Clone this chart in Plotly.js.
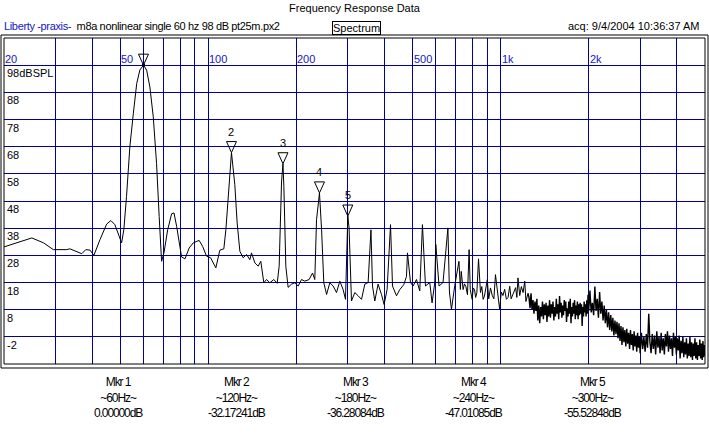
<!DOCTYPE html>
<html><head><meta charset="utf-8">
<script src="https://cdn.plot.ly/plotly-3.0.1.min.js"></script>
<style>html,body{margin:0;padding:0;background:#fff;}#chart{width:709px;height:441px;}</style>
</head><body><div id="chart"></div>
<script>
// ---- data (Hz, dB SPL) ----
const lowFreq = [20,22.1,24.9,27.3,29.5,32.8,33.6,36.9,38.1,39.4,40.6,42.6,44.9,46.4,47.9,50.5,51.4,52.5,53.9,55.4,56.9,58.3,60,61.5,63.1,64.8,66.5,67.9,69.2,70.5,72.6,74.9,76.3,77.9,79.9,81.0,83.2,86.0,88.8,93.0,95.6,98.6,101.8,106.1,109.5,113.0,114.8,117.9,120,123.2,125.5,128.2,131.6,135.1,138.7,140.5,144.3,148.1,151.2,154.8,158.2,162.3,167.5,172.0,174.7,178.0,180,181.3,184.1,187.5,192.6,197.7,202.9,208.4,213.8,221.2,227.2,231.3,234.5,240,244.0,248.3,253.8,260.4,267.2,274.5,281.7,289.1,294.6];
const lowDb = [31.1,32.6,34.4,32.6,30.1,30.1,30.4,28.6,30.1,29.9,28.0,33.8,39.5,40.8,39.3,32.6,37.4,49.7,68.0,80.3,91.3,96.2,98.0,96.2,90.0,79.0,61.9,42.3,25.8,28.9,37.4,43.3,43.6,38.7,31.3,27.4,26.7,30.7,32.6,33.5,31.3,27.7,27.1,23.4,29.9,30.4,37.4,55.8,65.8,54.0,39.9,29.5,27.1,28.3,26.4,28.9,25.2,24.0,25.8,17.9,19.1,17.9,19.1,17.7,24.0,55.0,61.7,53.3,24.0,16.2,17.4,17.9,16.7,19.1,18.5,19.1,21.5,19.1,41.1,51.0,37.4,17.9,13.6,17.9,16.7,14.3,18.5,15.4,11.8];

const midFreq = [300,303,308.8,317.0,325.4,334.2,343.0,352.1,360,364.4,371.1,380.8,391.1,399.2,408.8,420,426.6,440.2,451.8,466.2,476.2,480,491.5,501.6,515.2,528.8,540,553.1,572.0,582.6,595.1,600,615.5,635.1,660,668,678.7,696.6,720,728,733,744,752,760,770,780,787,799,806,814,821,829,840,853,862,871,880,890,900,910,923,936,948,960,970,979,992,1005,1018,1032,1046,1060,1074,1086,1097,1111,1125,1136,1146,1162,1177,1193,1209,1220,1230,1240];
const midDb = [42.5,38.0,11.2,14.3,13.1,11.8,17.4,18.0,37.4,16.7,11.2,17.4,13.6,9.9,15.4,39.3,16.7,13.1,15.4,17.2,20.2,28.9,18.0,16.7,19.1,14.9,39.3,16.7,18.0,10.5,18.0,32.0,16.7,18.0,38.1,14.5,8.1,16.9,25.8,15.4,22.1,15.4,17.5,16.6,13.5,30.1,15.4,11.8,16.0,15.4,12.5,14.3,26.7,14.3,16.5,11.8,13.0,15.4,19.0,12.0,16.0,13.2,12.0,20.9,16.0,11.8,8.1,14.5,13.2,15.5,11.8,12.5,16.6,12.0,13.2,15.0,16.1,12.5,19.7,13.2,16.5,14.3,18.5,11.0,13.2,14.0];

const noiseFreq = [1250,1260,1270,1280,1290,1300,1310,1320,1330,1340,1350,1360,1370,1380,1390,1400,1410,1420,1430,1440,1450,1460,1470,1480,1490,1500,1510,1520,1530,1540,1550,1560,1570,1580,1590,1600,1610,1620,1630,1640,1650,1660,1670,1680,1690,1700,1710,1720,1730,1740,1750,1760,1770,1780,1790,1800,1810,1820,1830,1840,1850,1860,1870,1880,1890,1900,1910,1920,1930,1940,1950,1960,1970,1980,1990,2000,
  2020,2040,2060,2080,2100,2120,2140,2160,2180,2200,2220,2240,2260,2280,2300,2320,2340,2360,2380,2400,2420,2440,2460,2480,2500,2520,2540,2560,2580,2600,2620,2640,2660,2680,2700,2720,2740,2760,2780,2800,2820,2840,2860,2880,2900,2920,2940,2960,2980,3000,
  3030,3060,3090,3120,3150,3180,3210,3240,3270,3300,3330,3360,3390,3420,3450,3480,3510,3540,3570,3600,3630,3660,3690,3720,3750,3780,3810,3840,3870,3900,3930,3960,3990,4020,4050,4080,4110,4140,4170,4200,4230,4260,4290,4320,4350,4380,4410,4440,4470,4500,4530,4560,4590,4620,4650,4680,4710,4740,4770,4800,4830,4860,4890,4920,4950,4980,5000];
const noiseDb = [12.5,8.5,14.0,8.0,11.5,6.5,11.0,7.5,12.0,4.0,9.5,3.0,9.0,5.5,11.0,4.5,10.0,6.0,10.5,3.5,9.5,5.5,11.5,5.0,10.0,6.5,11.0,4.0,9.0,5.5,12.0,6.5,10.0,4.5,13.0,7.0,10.5,5.0,9.5,6.0,11.5,7.5,11.0,3.5,8.5,5.5,11.0,6.5,12.0,3.0,9.0,5.5,10.5,6.5,11.5,4.5,9.5,6.0,11.0,4.5,10.0,6.0,10.5,6.5,10.0,2.0,9.0,5.5,11.0,7.0,10.0,5.5,11.5,6.5,13.5,7.5,
  15.0,7.0,10.5,6.0,16.5,7.5,12.0,5.0,14.5,6.5,11.0,4.0,9.5,3.0,8.0,1.5,7.0,0.5,6.0,0.0,5.0,-1.5,4.0,-1.0,3.5,-2.5,3.0,-3.5,2.0,-5.0,1.5,-4.0,0.5,-5.5,1.0,-4.5,-0.5,-6.5,0.5,-5.0,-1.0,-7.0,0.0,-5.5,-1.5,-7.5,-0.5,-6.0,-2.0,-8.0,
  -0.5,-6.5,-2.0,-7.5,-1.0,-6.0,6.5,-4.0,-8.0,-1.0,-6.5,-1.5,-8.5,0.0,-6.0,-2.0,-8.0,-0.5,-7.0,-2.5,-8.5,-1.0,-5.5,0.0,-7.5,-1.5,-6.5,-2.5,-9.0,-0.5,-6.0,-2.0,-8.5,-2.5,-7.0,-1.5,-10.0,-3.5,-8.0,-2.0,-9.5,-4.0,-8.5,-2.5,-10.0,-4.5,-9.0,-2.0,-9.5,-4.0,-10.5,-4.5,-9.0,-2.5,-10.0,-4.0,-10.5,-5.0,-9.0,-3.0,-10.0,-4.5,-10.5,-3.5,-9.5,-5.0,-9.0];

const refDb = 98;
const markerNames = ["Mkr 1","Mkr 2","Mkr 3","Mkr 4","Mkr 5"];
const markerFreq = [60,120,180,240,300];
const markerRelDb = [0, -32.17241, -36.28084, -47.01085, -55.52848];

const xGridHz = [20,30,40,50,60,70,80,90,100,200,300,400,500,600,700,800,900,1000,2000,3000,4000,5000];
const xLabelHz = [20,50,100,200,500,1000,2000];
const xLabelText = ["20","50","100","200","500","1k","2k"];
const yGridDb = [-2,8,18,28,38,48,58,68,78,88,98];
const yLabelText = ["-2","8","18","28","38","48","58","68","78","88","98dBSPL"];

const titleText = "Frequency Response Data";
const sourceText = "Liberty -praxis-";
const fileText = "m8a nonlinear single 60 hz 98 dB pt25m.px2";
const modeText = "Spectrum";
const acqText = "acq: 9/4/2004 10:36:37 AM";

// ---- styling ----
const GRID = '#00009c';
const BLUE = '#1414c8';
const FONT = 'Liberation Sans, Arial, sans-serif';
const W = 709, H = 441, ML = 4, MR = 4, MT = 38, MB = 77;
const PW = W - ML - MR, PH = H - MT - MB;
const px2x = p => (p - ML) / PW;
const py2y = p => (H - MB - p) / PH;
const tight = (t, s) => '<span style="letter-spacing:' + s + 'px">' + t + '</span>';

const mainFreq = lowFreq.concat(midFreq);
const mainDb = lowDb.concat(midDb);
const markerDb = markerRelDb.map(r => refDb + r);

const traces = [
  {x: mainFreq, y: mainDb, type: 'scatter', mode: 'lines', line: {color: '#000', width: 1}, hoverinfo: 'skip', showlegend: false},
  {x: [midFreq[midFreq.length - 1]].concat(noiseFreq), y: [midDb[midDb.length - 1]].concat(noiseDb),
   type: 'scatter', mode: 'lines', line: {color: '#000', width: 1.4}, hoverinfo: 'skip', showlegend: false},
  {x: [markerFreq[0]], y: [markerDb[0]], type: 'scatter', mode: 'markers',
   marker: {symbol: 'square', size: 3, color: '#000'}, hoverinfo: 'skip', showlegend: false}
];

const annotations = [];
xLabelHz.forEach((f, i) => annotations.push({
  xref: 'x', yref: 'y', x: Math.log10(f), y: refDb, xanchor: 'left', yanchor: 'bottom',
  xshift: 0, yshift: -1, text: xLabelText[i], showarrow: false, borderpad: 0,
  font: {family: FONT, size: 11, color: BLUE}
}));
yGridDb.forEach((v, i) => annotations.push({
  xref: 'paper', yref: 'y', x: 0, y: v, xanchor: 'left', yanchor: 'top',
  xshift: 2, yshift: -1, text: yLabelText[i], showarrow: false, borderpad: 0,
  font: {family: FONT, size: 11, color: '#000'}
}));
markerFreq.forEach((f, i) => {
  if (i > 0) annotations.push({
    xref: 'x', yref: 'y', x: Math.log10(f), y: markerDb[i], xanchor: 'center', yanchor: 'bottom',
    yshift: 14, text: String(i + 1), showarrow: false, borderpad: 0,
    font: {family: FONT, size: 11, color: '#000'}
  });
  annotations.push({
    xref: 'paper', yref: 'paper', x: px2x(118.5 * (i + 1)), y: py2y(397),
    xanchor: 'center', yanchor: 'middle', align: 'center', showarrow: false,
    text: [markerNames[i], '~' + f + 'Hz~', markerRelDb[i].toFixed(5) + 'dB'].map(t => tight(t, -1.1)).join('<br>'),
    font: {family: FONT, size: 12, color: '#000'}
  });
});
annotations.push({
  xref: 'paper', yref: 'paper', x: px2x(3), y: py2y(26), xanchor: 'left', yanchor: 'middle',
  showarrow: false, borderpad: 0,
  text: tight('<span style="color:' + BLUE + '">' + sourceText + '</span>  ' + fileText, -0.35),
  font: {family: FONT, size: 11, color: '#000'}
});
annotations.push({
  xref: 'paper', yref: 'paper', x: px2x(356.5), y: py2y(27.5), xanchor: 'center', yanchor: 'middle',
  showarrow: false, borderpad: 0, bordercolor: '#000', borderwidth: 1, text: modeText,
  font: {family: FONT, size: 11, color: '#000'}
});
annotations.push({
  xref: 'paper', yref: 'paper', x: px2x(701), y: py2y(26), xanchor: 'right', yanchor: 'middle',
  showarrow: false, borderpad: 0, text: acqText,
  font: {family: FONT, size: 11, color: '#000'}
});

const shapes = [
  {type: 'rect', xref: 'paper', yref: 'paper', x0: 0, x1: 1, y0: 0, y1: 1, line: {color: '#000', width: 1}},
  {type: 'rect', xref: 'paper', yref: 'paper', x0: px2x(1), x1: px2x(708), y0: py2y(368), y1: py2y(35), line: {color: '#000', width: 1}}
];
markerFreq.forEach((f, i) => shapes.push({
  type: 'path', xref: 'x', yref: 'y', xsizemode: 'pixel', ysizemode: 'pixel',
  xanchor: f, yanchor: markerDb[i], path: 'M -5 11 L 5 11 L 0 0 Z',
  line: {color: '#000', width: 1}, fillcolor: 'rgba(0,0,0,0)'
}));

const layout = {
  width: W, height: H,
  margin: {l: ML, r: MR, t: MT, b: MB, pad: 0},
  paper_bgcolor: '#fff', plot_bgcolor: '#fff',
  title: {text: titleText, font: {family: FONT, size: 11, color: '#000'},
          xref: 'container', yref: 'container', x: 0.5, xanchor: 'center', y: 1 - 8 / H, yanchor: 'middle'},
  xaxis: {type: 'log', range: [Math.log10(20), Math.log10(5000)], tickvals: xGridHz,
          showticklabels: false, ticks: '', showgrid: true, gridcolor: GRID, gridwidth: 1,
          zeroline: false, showline: false, fixedrange: true},
  yaxis: {range: [-12, 108], tickvals: yGridDb, showticklabels: false, ticks: '',
          showgrid: true, gridcolor: GRID, gridwidth: 1, zeroline: false, showline: false, fixedrange: true},
  showlegend: false,
  annotations: annotations,
  shapes: shapes
};

Plotly.newPlot('chart', traces, layout, {displayModeBar: false, staticPlot: true});
</script>
</body></html>
